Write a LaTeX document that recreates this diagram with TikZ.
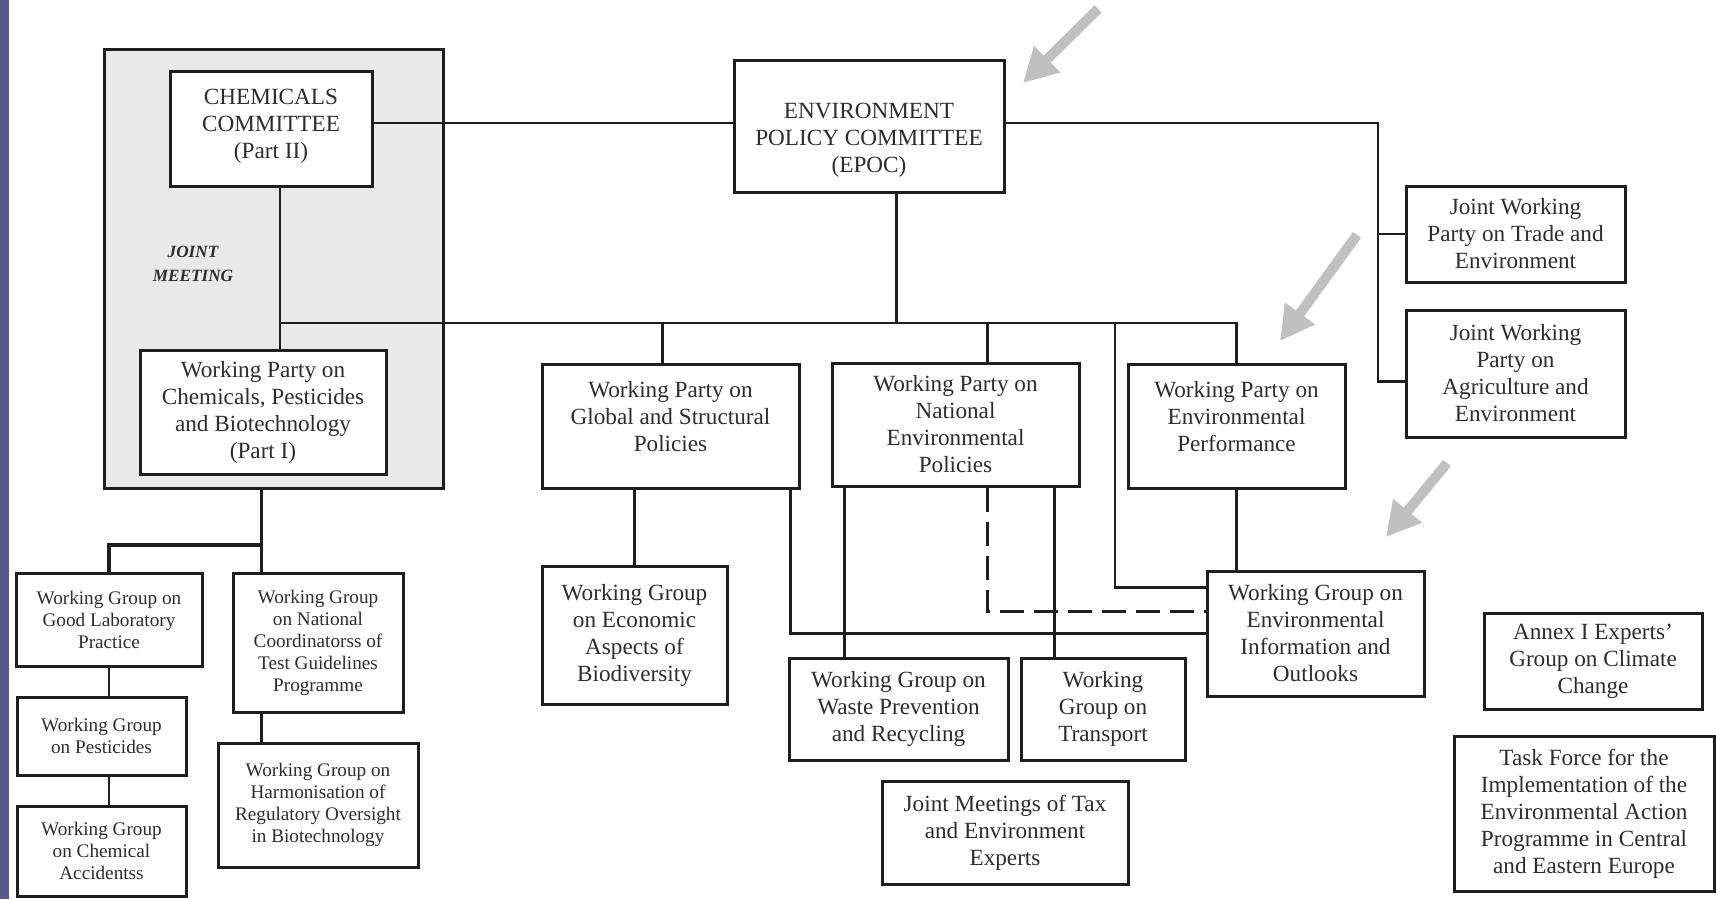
\documentclass[tikz,border=0pt]{standalone}
\usepackage{fontspec}
\setmainfont{Liberation Serif}
\usetikzlibrary{calc,arrows.meta}
\definecolor{txt}{RGB}{45,45,45}
\definecolor{jmgray}{RGB}{233,233,233}
\definecolor{arrowgray}{RGB}{192,192,192}
\definecolor{strip}{RGB}{88,88,140}
\definecolor{ink}{RGB}{30,30,30}
\newcommand{\orgbox}[7]{%
  \pgfmathsetmacro{\obcx}{(#3+#5)/2}%
  \pgfmathsetmacro{\obcy}{(#4+#6)/2}%
  \pgfmathsetmacro{\obw}{(#5-#3)*0.5}%
  \pgfmathsetmacro{\obh}{(#6-#4)*0.5}%
  \node[#1, minimum width=\obw pt, minimum height=\obh pt] (#2) at (\obcx,\obcy) {#7};}
\begin{document}
\begin{tikzpicture}[x=0.5pt,y=-0.5pt,
  orgb/.style={draw=ink, line width=1.5pt, fill=white, rectangle, inner sep=2pt, align=center, text=txt, font=\fontsize{11.6}{13.5}\selectfont},
  orgs/.style={orgb, font=\fontsize{9.6}{11}\selectfont},
  jmstyle/.style={draw=ink, line width=1.5pt, fill=jmgray, rectangle, inner sep=0pt},
  conn/.style={draw=ink, line width=1.2pt},
  connthick/.style={draw=ink, line width=2pt},
  dashconn/.style={conn, dash pattern=on 12pt off 5pt},
  garrow/.style={draw=arrowgray, line width=5pt, -{Triangle[length=17pt,width=17.5pt]}}
]
\useasboundingbox (0,0) rectangle (1716,899);
\fill[white] (0,0) rectangle (1716,899);
\fill[strip] (0,0) rectangle (9,899);

% joint meeting group
\orgbox{jmstyle}{jm}{104}{50}{443}{488}{}
\node[font=\fontsize{8.6}{12}\selectfont\bfseries\itshape, text=txt, align=center] (jmlabel) at (193,264) {JOINT\\MEETING};

% helper coordinates
\coordinate (topy) at (0,123);
\coordinate (busL) at (280,323);
\coordinate (rj) at (1378,123);
\coordinate (b4) at (1115,323);

% boxes
\orgbox{orgb}{chem}{170}{72}{372}{186}{CHEMICALS\\COMMITTEE\\(Part II)\\[-8pt]\mbox{}}
\orgbox{orgb}{epoc}{734}{61}{1004}{192}{\mbox{}\\[7.5pt]ENVIRONMENT\\POLICY COMMITTEE\\(EPOC)}
\orgbox{orgb}{wpchem}{140}{350}{386}{474}{Working Party on\\Chemicals, Pesticides\\and Biotechnology\\(Part I)}
\orgbox{orgb}{jwptrade}{1406}{186}{1625}{282}{Joint Working\\Party on Trade and\\Environment}
\orgbox{orgb}{jwpagri}{1406}{310}{1625}{437}{Joint Working\\Party on\\Agriculture and\\Environment}
\orgbox{orgb}{wpglobal}{542}{364}{799}{488}{Working Party on\\Global and Structural\\Policies\\[-3.5pt]\mbox{}}
\orgbox{orgb}{wpnep}{832}{363}{1079}{486}{Working Party on\\National\\Environmental\\Policies}
\orgbox{orgb}{wpenvperf}{1128}{364}{1345}{488}{Working Party on\\Environmental\\Performance\\[-3.5pt]\mbox{}}
\orgbox{orgb}{wgeio}{1207}{571}{1424}{696}{Working Group on\\Environmental\\Information and\\Outlooks}
\orgbox{orgb}{wgecon}{542}{566}{727}{704}{Working Group\\on Economic\\Aspects of\\Biodiversity}
\orgbox{orgb}{wgwaste}{789}{658}{1008}{760}{Working Group on\\Waste Prevention\\and Recycling}
\orgbox{orgb}{wgtransport}{1021}{658}{1185}{760}{Working\\Group on\\Transport}
\orgbox{orgb}{jmtax}{882}{781}{1128}{884}{Joint Meetings of Tax\\and Environment\\Experts}
\orgbox{orgb}{annex}{1484}{613}{1702}{709}{Annex I Experts’\\Group on Climate\\Change}
\orgbox{orgb}{taskforce}{1454}{736}{1714}{891}{Task Force for the\\Implementation of the\\Environmental Action\\Programme in Central\\and Eastern Europe}
\orgbox{orgs}{wgglp}{16}{573}{202}{666}{Working Group on\\Good Laboratory\\Practice}
\orgbox{orgs}{wgnat}{233}{573}{403}{712}{Working Group\\on National\\Coordinatorss of\\Test Guidelines\\Programme}
\orgbox{orgs}{wgpest}{17}{697}{186}{775}{Working Group\\on Pesticides}
\orgbox{orgs}{wgacc}{17}{806}{186}{896}{Working Group\\on Chemical\\Accidentss}
\orgbox{orgs}{wgharm}{218}{743}{418}{867}{Working Group on\\Harmonisation of\\Regulatory Oversight\\in Biotechnology}

% top level connectors
\draw[conn] (chem.east |- topy) -- (epoc.west |- topy);
\draw[conn] (epoc.east |- topy) -- (rj) |- ($(jwpagri.west)+(0,8)$);
\draw[conn] (rj |- jwptrade.west) -- (jwptrade.west);
\coordinate (e0) at ($(epoc.south west)+(164,0)$);
\draw[conn] (e0) -- (e0 |- busL);
\draw[conn] (chem.south -| busL) -- (wpchem.north -| busL);
\draw[conn] (busL) -| (wpenvperf.north);
\coordinate (g0) at ($(wpglobal.north west)+(122,0)$);
\draw[conn] (g0) -- (g0 |- busL);
\coordinate (n0) at ($(wpnep.north west)+(157,0)$);
\draw[conn] (n0) -- (n0 |- busL);
\draw[conn] (b4) |- ($(wgeio.north west)+(0,18)$);

% second level
\draw[conn] (wpenvperf.south) -- (wpenvperf.south |- wgeio.north);
\coordinate (g1) at ($(wpglobal.south east)+(-10,0)$);
\draw[conn] (g1) |- ($(wgeio.north west)+(0,64)$);
\draw[conn] (wgecon.north) -- (wgecon.north |- wpglobal.south);
\coordinate (n1) at ($(wpnep.south west)+(14,0)$);
\draw[conn] (n1) -- (n1 |- wgwaste.north);
\coordinate (n2) at ($(wpnep.south east)+(-26,0)$);
\draw[conn] (n2) -- (n2 |- wgtransport.north);
\coordinate (n3) at ($(wpnep.south west)+(157,0)$);
\draw[dashconn] (n3) |- ($(wgeio.north west)+(0,42)$);

% chemicals branch
\coordinate (j0) at ($(jm.south west)+(159,0)$);
\coordinate (jh) at ($(j0)+(0,55)$);
\draw[conn] (j0) -- (jh);
\draw[connthick] (jh) -- (jh -| wgglp.north) -- (wgglp.north);
\draw[conn] (jh) -- (jh |- wgnat.north);
\draw[conn] (wgglp.south) -- (wgglp.south |- wgpest.north);
\draw[conn] (wgglp.south |- wgpest.south) -- (wgglp.south |- wgacc.north);
\draw[conn] (jh |- wgnat.south) -- (jh |- wgharm.north);

% grey pointer arrows
\coordinate (a1s) at (1098,9);   \coordinate (a1e) at (1023,83);
\coordinate (a2s) at (1357,235); \coordinate (a2e) at (1280,341);
\coordinate (a3s) at (1447,463); \coordinate (a3e) at (1386,537);
\draw[garrow] (a1s) -- (a1e);
\draw[garrow] (a2s) -- (a2e);
\draw[garrow] (a3s) -- (a3e);
\end{tikzpicture}
\end{document}
